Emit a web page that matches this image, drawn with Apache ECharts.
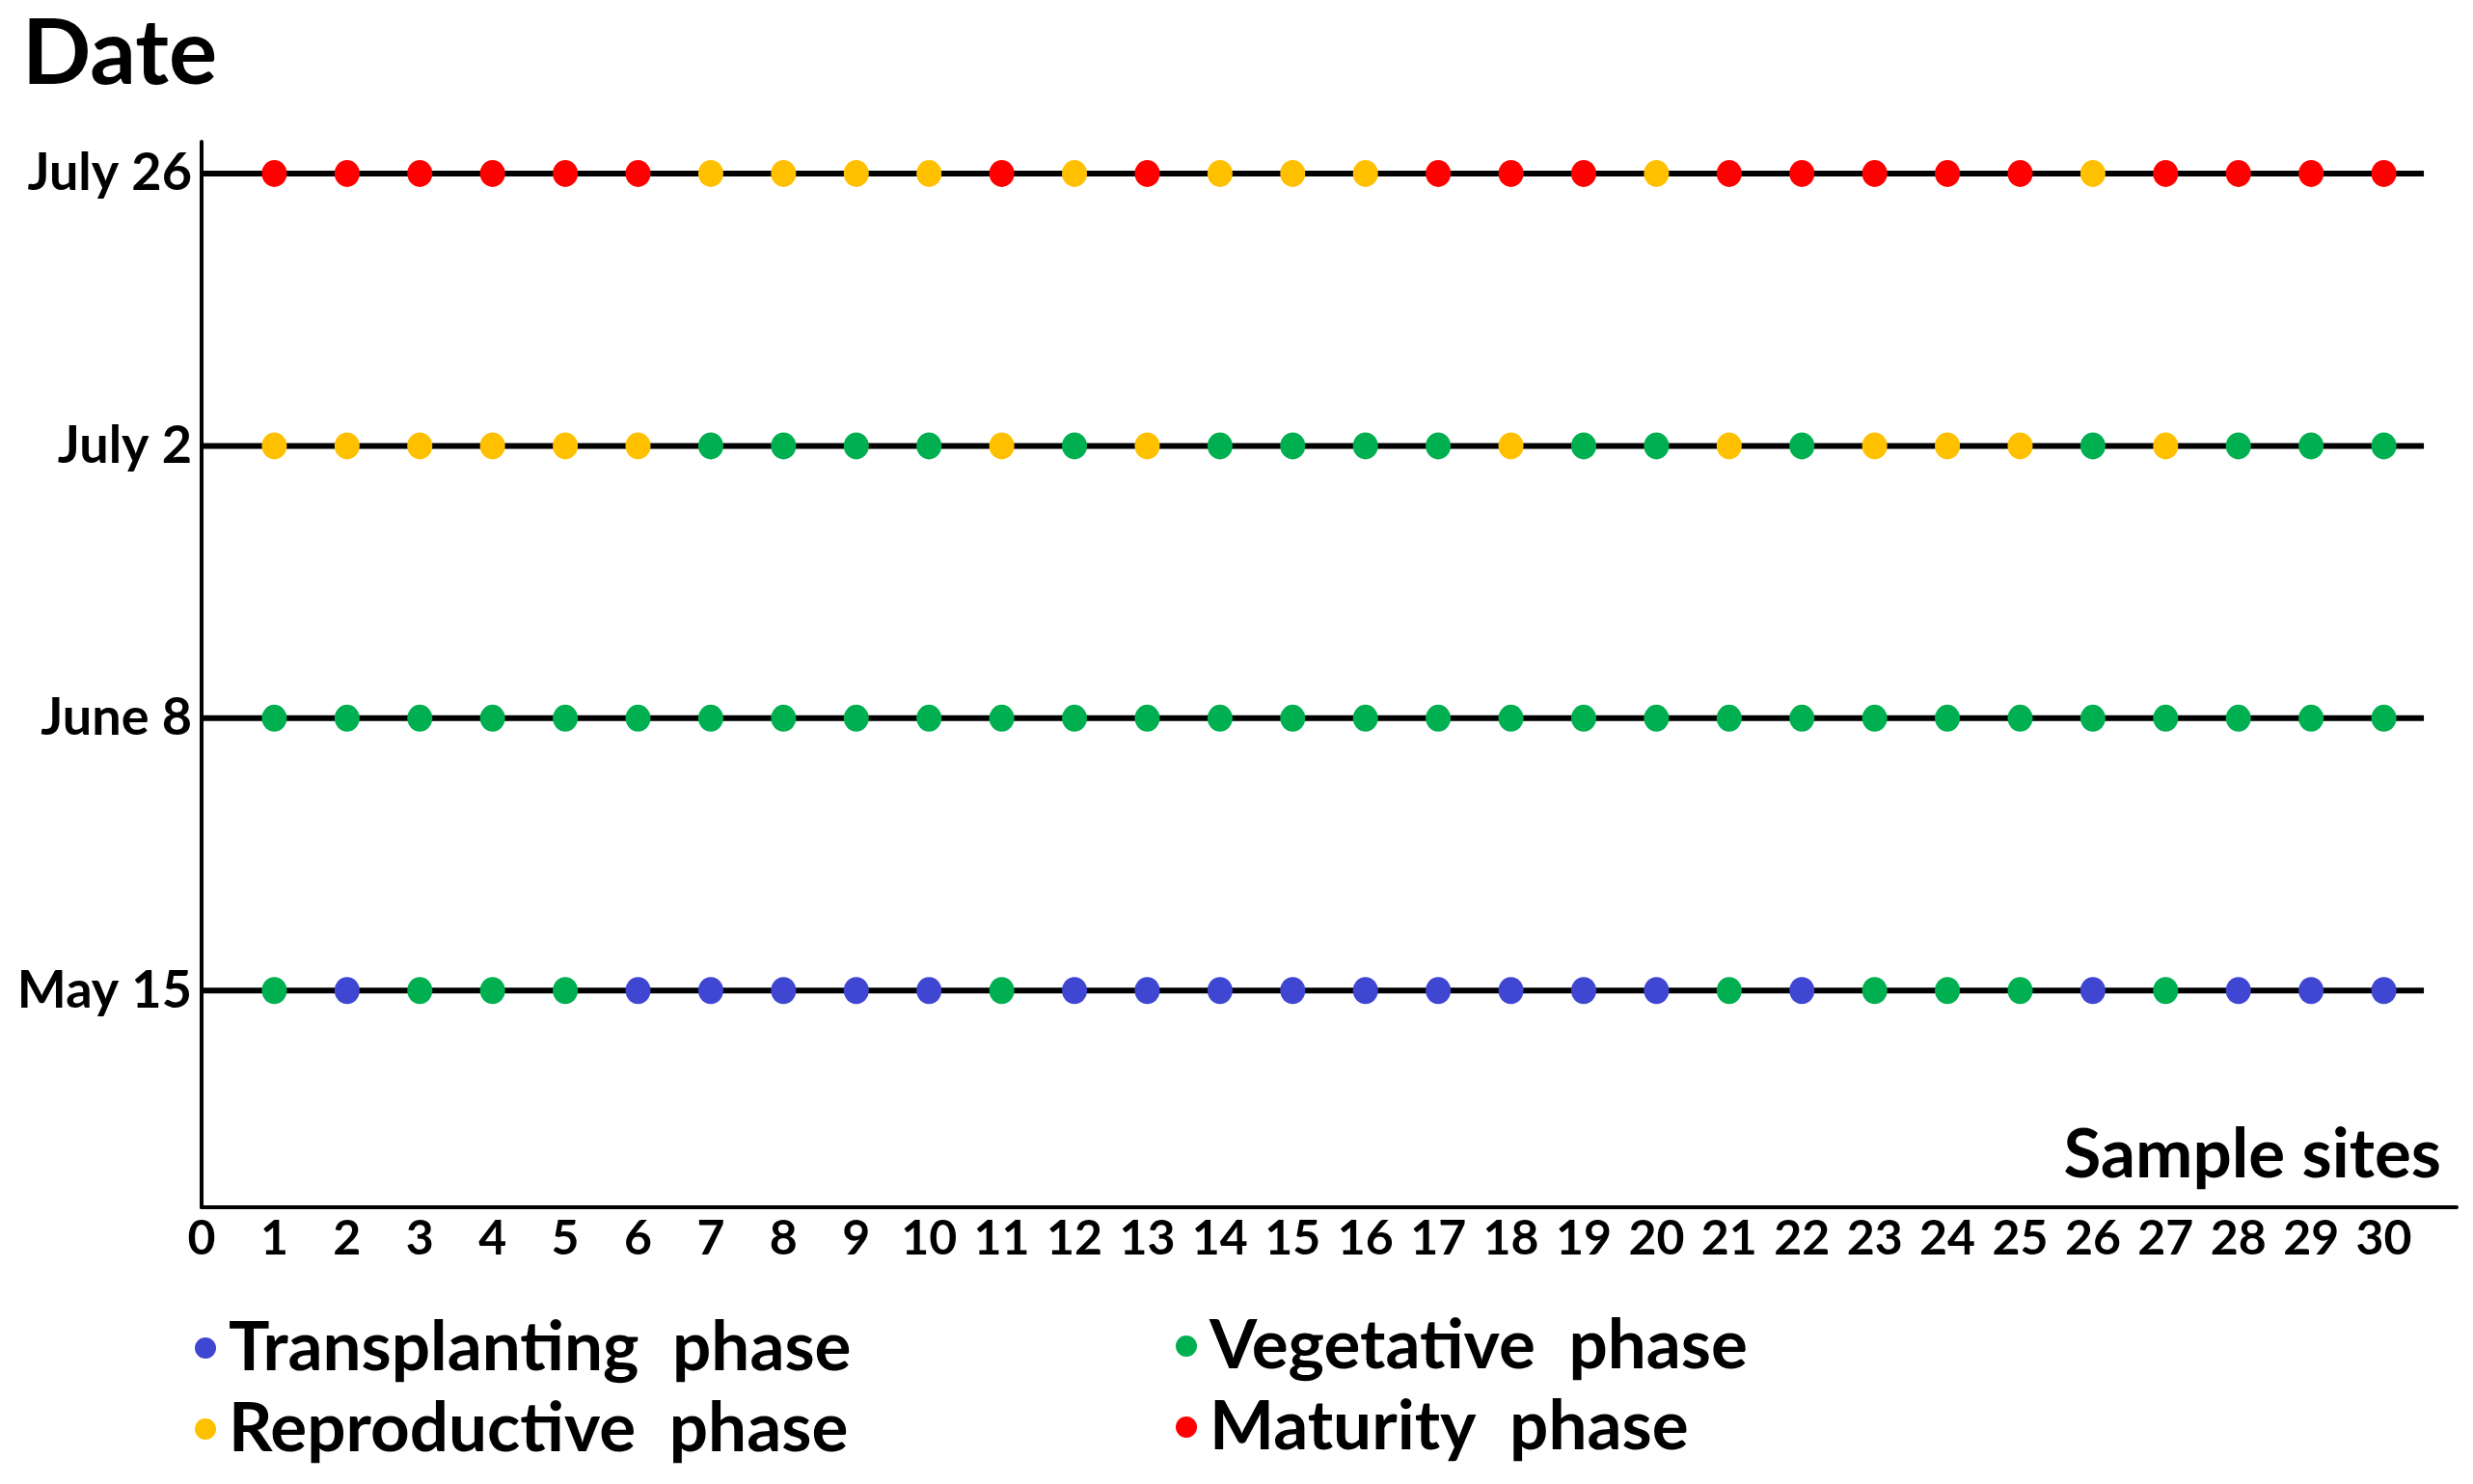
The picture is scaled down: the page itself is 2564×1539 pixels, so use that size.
<!DOCTYPE html>
<html>
<head>
<meta charset="utf-8">
<title>Sample sites phases</title>
<script src="https://cdn.jsdelivr.net/npm/echarts@6/dist/echarts.min.js"></script>
<style>
  html, body { margin: 0; padding: 0; background: #fff; }
  #chart { width: 2564px; height: 1539px; }
</style>
</head>
<body>
<div id="chart"></div>
<script>
// survey dates (days counted from May 15)
var dateLabels = ['May 15', 'June 8', 'July 2', 'July 26'];
var dateDays = [0, 24, 48, 72];

var sites = [1, 2, 3, 4, 5, 6, 7, 8, 9, 10, 11, 12, 13, 14, 15,
             16, 17, 18, 19, 20, 21, 22, 23, 24, 25, 26, 27, 28, 29, 30];
var xTicks = [0].concat(sites);

// T = transplanting, V = vegetative, R = reproductive, M = maturity
var may15 = ['V','T','V','V','V','T','T','T','T','T','V','T','T','T','T','T','T','T','T','T','V','T','V','V','V','T','V','T','T','T'];
var jun8  = ['V','V','V','V','V','V','V','V','V','V','V','V','V','V','V','V','V','V','V','V','V','V','V','V','V','V','V','V','V','V'];
var jul2  = ['R','R','R','R','R','R','V','V','V','V','R','V','R','V','V','V','V','R','V','V','R','V','R','R','R','V','R','V','V','V'];
var jul26 = ['M','M','M','M','M','M','R','R','R','R','M','R','M','R','R','R','M','M','M','R','M','M','M','M','M','R','M','M','M','M'];
var phaseRows = [may15, jun8, jul2, jul26];

var phaseCodes = ['T', 'V', 'R', 'M'];
var phaseNames = ['Transplanting  phase', 'Vegetative  phase', 'Reproductive  phase', 'Maturity  phase'];
var phaseColors = ['#3f47d2', '#00b050', '#ffc000', '#ff0000'];

var rowEnd = 30.55;   // where the black row lines stop

var FONT = 'Lato, "Open Sans", sans-serif';

function buildPoints(code) {
    var pts = [];
    phaseRows.forEach(function (row, r) {
        row.forEach(function (c, i) {
            if (c === code) pts.push([sites[i], dateDays[r]]);
        });
    });
    return pts;
}

var series = [];

// horizontal line for every survey date
dateDays.forEach(function (d) {
    series.push({
        type: 'line',
        data: [[0, d], [rowEnd, d]],
        showSymbol: false,
        silent: true,
        z: 1,
        lineStyle: { color: '#000', width: 6 }
    });
});

phaseCodes.forEach(function (code, k) {
    series.push({
        name: phaseNames[k],
        type: 'scatter',
        data: buildPoints(code),
        symbol: 'circle',
        symbolSize: [26, 28],
        z: 3,
        itemStyle: { color: phaseColors[k], opacity: 1 }
    });
});

var legendText = { fontFamily: FONT, fontWeight: 'bold', fontSize: 71, lineHeight: 84, color: '#000', padding: [0, 0, 0, 8] };

var option = {
    animation: false,
    backgroundColor: '#fff',
    title: {
        text: 'Date',
        left: 23,
        top: 10,
        padding: 0,
        textStyle: { fontFamily: FONT, fontWeight: 'bold', fontSize: 94, color: '#000' }
    },
    grid: { left: 209, right: 17, top: 147, bottom: 287 },
    xAxis: {
        type: 'value',
        min: 0,
        max: 31,
        interval: 1,
        splitLine: { show: false },
        axisTick: { show: false },
        axisLine: { onZero: false, lineStyle: { color: '#000', width: 4 } },
        axisLabel: {
            customValues: xTicks,
            margin: 8,
            fontFamily: FONT,
            fontWeight: 'bold',
            fontSize: 50,
            color: '#000'
        }
    },
    yAxis: {
        type: 'value',
        min: -19.1,
        max: 74.8,
        splitLine: { show: false },
        axisTick: { show: false },
        axisLine: { show: true, onZero: false, lineStyle: { color: '#000', width: 4 } },
        axisLabel: {
            customValues: dateDays,
            margin: 10,
            fontFamily: FONT,
            fontWeight: 'bold',
            fontSize: 54,
            color: '#000',
            formatter: function (v) {
                var i = dateDays.indexOf(v);
                return i >= 0 ? dateLabels[i] : '';
            }
        }
    },
    legend: [
        {
            orient: 'vertical',
            left: 202,
            top: 1356,
            padding: 0,
            itemGap: 0,
            itemWidth: 22,
            itemHeight: 26,
            icon: 'circle',
            data: [phaseNames[0], phaseNames[2]],
            textStyle: legendText
        },
        {
            orient: 'vertical',
            left: 1219,
            top: 1354,
            padding: 0,
            itemGap: 0,
            itemWidth: 22,
            itemHeight: 26,
            icon: 'circle',
            data: [phaseNames[1], phaseNames[3]],
            textStyle: legendText
        }
    ],
    graphic: [
        {
            type: 'text',
            x: 2531,
            y: 1198,
            style: {
                text: 'Sample sites',
                align: 'right',
                verticalAlign: 'middle',
                font: 'bold 71px ' + FONT,
                fill: '#000'
            }
        }
    ],
    series: series
};

var myChart = echarts.init(document.getElementById('chart'));
myChart.setOption(option);
</script>
</body>
</html>
